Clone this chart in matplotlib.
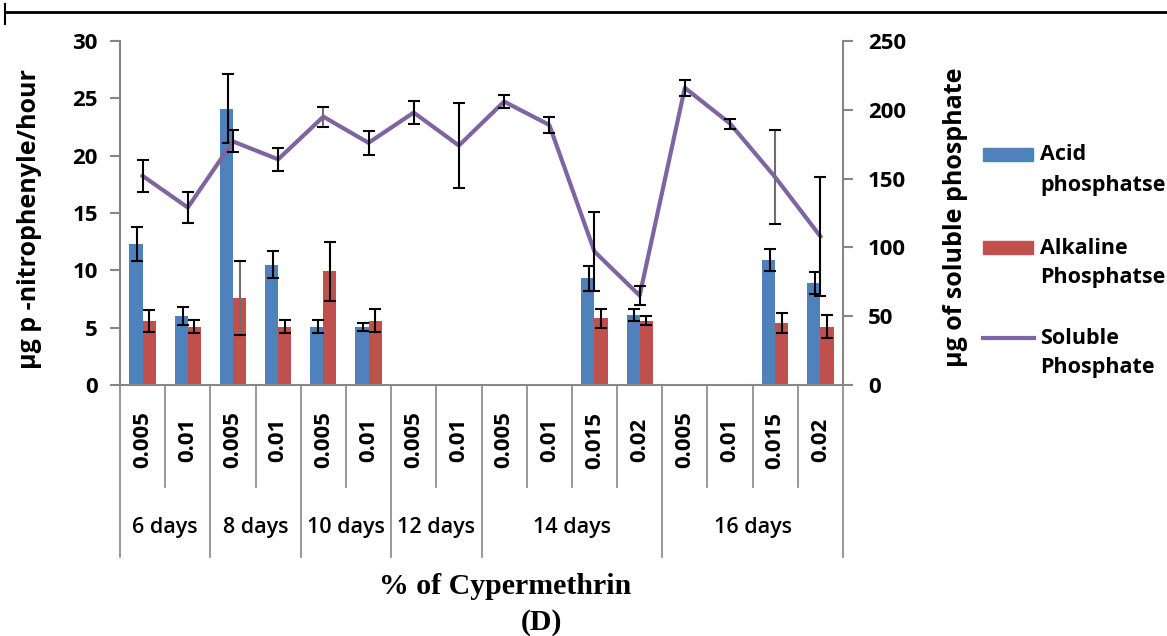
import numpy as np
import matplotlib
matplotlib.use("agg")
import matplotlib.pyplot as plt
from matplotlib.patches import Rectangle
from matplotlib.lines import Line2D

plt.rcParams['font.family'] = ['Open Sans', 'DejaVu Sans']

# concentrations (% Cypermethrin) and day groups
conc = ["0.005", "0.01", "0.005", "0.01", "0.005", "0.01", "0.005", "0.01",
        "0.005", "0.01", "0.015", "0.02", "0.005", "0.01", "0.015", "0.02"]
groups = ["6 days", "8 days", "10 days", "12 days", "14 days", "16 days"]
group_sizes = [2, 2, 2, 2, 4, 4]

# acid phosphatse (left axis), nan where no bar
acid = [12.3, 6.0, 24.1, 10.5, 5.1, 5.1, np.nan, np.nan,
        np.nan, np.nan, 9.3, 6.1, np.nan, np.nan, 10.9, 8.9]
acid_err = [1.5, 0.8, 3.0, 1.2, 0.6, 0.35, 0, 0,
            0, 0, 1.1, 0.5, 0, 0, 0.95, 0.95]

alk = [5.6, 5.1, 7.6, 5.1, 9.9, 5.6, np.nan, np.nan,
       np.nan, np.nan, 5.8, 5.6, np.nan, np.nan, 5.4, 5.1]
alk_err = [0.95, 0.55, 3.2, 0.6, 2.6, 1.0, 0, 0,
           0, 0, 0.8, 0.4, 0, 0, 0.9, 1.0]

# soluble phosphate (right axis)
soluble = [152, 129, 177, 164, 195, 176, 198, 174,
           206, 189, 97, 65, 216, 190, 151, 108]
soluble_err = [11.5, 11.5, 8, 8.5, 7.3, 8.5, 8.4, 31,
               4.4, 5.8, 29, 7, 5.8, 3.6, 34, 43.5]

BLUE = "#4F81BD"
RED = "#C0504D"
PURPLE = "#8064A2"
AXC = "#868686"
GREYBAR = "#6E6E6E"

W, H = 1167, 636
fig = plt.figure(figsize=(W / 100, H / 100), dpi=100)
ax = fig.add_axes([120 / W, 1 - 385 / H, 723 / W, 344 / H])
x = np.arange(len(conc))
w = 0.29

acid_a = np.array(acid)
alk_a = np.array(alk)
m1 = ~np.isnan(acid_a)
m2 = ~np.isnan(alk_a)
ax.bar(x[m1] - w / 2, acid_a[m1], w, color=BLUE, zorder=2)
ax.bar(x[m2] + w / 2, alk_a[m2], w, color=RED, zorder=2)
ax.errorbar(x[m1] - w / 2 + 0.03, acid_a[m1], yerr=np.array(acid_err)[m1], fmt="none",
            ecolor="black", elinewidth=1.5, capsize=4.5, capthick=1.5, zorder=3)
eb_alk = ax.errorbar(x[m2] + w / 2, alk_a[m2], yerr=np.array(alk_err)[m2], fmt="none",
                     ecolor="black", elinewidth=1.5, capsize=4.5, capthick=1.5, zorder=3)
alk_cols = ["black"] * int(m2.sum())
alk_cols[2] = GREYBAR
eb_alk.lines[2][0].set_color(alk_cols)

ax.set_xlim(-0.5, len(conc) - 0.5)
ax.set_ylim(0, 30)
ax.set_yticks(np.arange(0, 31, 5))
ax.set_xticks([])

ax2 = ax.twinx()
ax2.plot(x, soluble, color=PURPLE, lw=3, zorder=2)
eb_sol = ax2.errorbar(x, soluble, yerr=soluble_err, fmt="none", ecolor="black",
                      elinewidth=1.5, capsize=4.5, capthick=1.5, zorder=3)
sol_cols = ["black"] * len(soluble)
sol_cols[4] = GREYBAR
sol_cols[14] = GREYBAR
eb_sol.lines[2][0].set_color(sol_cols)
ax2.set_ylim(0, 250)
ax2.set_yticks(np.arange(0, 251, 50))

for a in (ax, ax2):
    for s in a.spines.values():
        s.set_visible(False)
    a.tick_params(axis="y", colors=AXC, length=7, width=1.5, labelsize=16)
    for lab in a.get_yticklabels():
        lab.set_color("black")
        lab.set_fontweight("bold")
ax.spines["left"].set_visible(True)
ax.spines["bottom"].set_visible(True)
ax2.spines["right"].set_visible(True)
for key in ("left", "bottom"):
    ax.spines[key].set_color(AXC)
    ax.spines[key].set_linewidth(1.5)
ax2.spines["right"].set_color(AXC)
ax2.spines["right"].set_linewidth(1.5)
ax.tick_params(axis="y", pad=9)
ax2.tick_params(axis="y", pad=11)

ax.set_ylabel("\u03bcg p -nitrophenyle/hour", fontsize=18, fontweight="bold")
ax.yaxis.set_label_coords((42 - 120) / 723, (385 - 219) / 344)
ax2.set_ylabel("\u03bcg of soluble phosphate", fontsize=18, fontweight="bold")
ax2.yaxis.set_label_coords((943 - 120) / 723, (385 - 217) / 344)

# category axis: rotated labels and separator lines
tr = ax.get_xaxis_transform()
for i, c in enumerate(conc):
    ax.text(i, -0.16, c, rotation=90, ha="center", va="center", fontsize=16,
            fontweight="bold", transform=tr)
bounds = np.cumsum([0] + group_sizes)
for b in range(len(conc) + 1):
    yend = -0.5 if b in bounds else -0.297
    ax.plot([b - 0.5, b - 0.5], [0, yend], color=AXC, lw=1.2, transform=tr, clip_on=False)
for g, start, size in zip(groups, bounds[:-1], group_sizes):
    ax.text(start - 0.5 + size / 2, -0.413, g, ha="center", va="center", fontsize=15.5,
            fontweight="semibold", transform=tr)

fig.text(505 / W, 1 - 586 / H, "% of Cypermethrin", ha="center", va="center",
         fontsize=21.5, fontweight="bold", family="Liberation Serif")
fig.text(541 / W, 1 - 622 / H, "(D)", ha="center", va="center",
         fontsize=21.5, fontweight="bold", family="Liberation Serif")

# top frame line
fig.add_artist(Line2D([5 / W, 1], [1 - 12 / H, 1 - 12 / H], color="black", lw=2))
fig.add_artist(Line2D([5 / W, 5 / W], [1 - 4 / H, 1 - 24 / H], color="black", lw=1.5))

# legend drawn by hand so the key lines up with the first text line
legend_items = [("patch", BLUE, "Acid", "phosphatse", 155),
                ("patch", RED, "Alkaline", "Phosphatse", 248),
                ("line", PURPLE, "Soluble", "Phosphate", 338)]
for kind, col, l1, l2, yc in legend_items:
    if kind == "patch":
        fig.add_artist(Rectangle((983 / W, 1 - (yc + 6) / H), 50 / W, 13 / H,
                                 color=col, transform=fig.transFigure))
    else:
        fig.add_artist(Line2D([983 / W, 1034 / W], [1 - yc / H, 1 - yc / H],
                              color=col, lw=3))
    fig.text(1040 / W, 1 - yc / H, l1, ha="left", va="center", fontsize=15.5,
             fontweight="bold")
    fig.text(1040 / W, 1 - (yc + 30) / H, l2, ha="left", va="center", fontsize=15.5,
             fontweight="bold")

fig.savefig("out.png", dpi=100)
